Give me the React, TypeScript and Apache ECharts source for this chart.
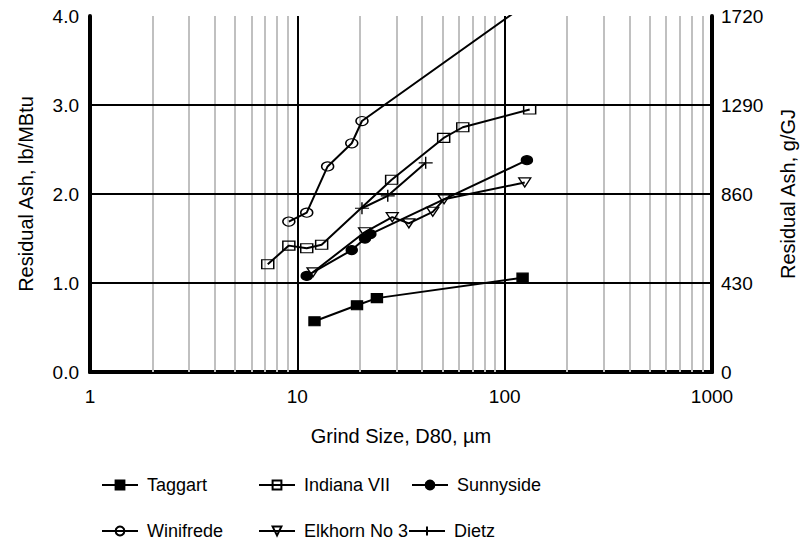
import React, { useEffect, useRef } from "react";
import * as echarts from "echarts";

// Grind size (D80, µm) and residual ash (lb/MBtu) for each coal
const taggartX = [12.1, 19.4, 24.2, 122];
const taggartY = [0.57, 0.75, 0.83, 1.06];

const indianaX = [7.2, 9.1, 11.1, 13.1, 28.5, 50.8, 62.8, 132];
const indianaY = [1.21, 1.42, 1.39, 1.43, 2.16, 2.63, 2.75, 2.95];

const sunnysideX = [11.1, 18.3, 21.2, 22.5, 128];
const sunnysideY = [1.08, 1.37, 1.5, 1.55, 2.38];

const winifredeX = [9.1, 11.1, 14.0, 18.3, 20.5, 128];
const winifredeY = [1.69, 1.79, 2.31, 2.57, 2.82, 4.14];

const elkhornX = [11.9, 21.1, 28.7, 34.5, 45, 51, 125];
const elkhornY = [1.12, 1.57, 1.74, 1.67, 1.8, 1.94, 2.13];

const dietzX = [20.5, 27.3, 41.6];
const dietzY = [1.84, 1.98, 2.35];

// Axis ticks
const leftTicks = [0, 1, 2, 3, 4];
const rightTicks = [0, 430, 860, 1290, 1720];
const minorX = [2, 3, 4, 5, 6, 7, 8, 9, 20, 30, 40, 50, 60, 70, 80, 90, 200, 300, 400, 500, 600, 700, 800, 900];
const majorX = [10, 100];

const FONT = "'Liberation Sans', Arial, sans-serif";
const PLUS = "path://M0,6L14,6M7,0L7,12";

const pair = (xs: number[], ys: number[]) => xs.map((x, i) => [x, ys[i]]);

export default function App() {
  const ref = useRef<HTMLDivElement>(null);

  useEffect(() => {
    if (!ref.current) return;
    const chart = echarts.init(ref.current, null, { renderer: "svg" });

    const mk = (
      name: string,
      xs: number[],
      ys: number[],
      symbol: string,
      size: number[],
      filled: boolean,
      rotate = 0
    ) => ({
      name,
      type: "line",
      data: pair(xs, ys),
      symbol,
      symbolSize: size,
      symbolRotate: rotate,
      showSymbol: true,
      clip: true,
      z: 5,
      lineStyle: { color: "#000", width: 2 },
      itemStyle: {
        color: filled ? "#000" : "rgba(0,0,0,0)",
        borderColor: "#000",
        borderWidth: 1.3,
      },
    });

    const legendPos = [
      { name: "Taggart", left: 96, top: 471 },
      { name: "Indiana VII", left: 253, top: 471 },
      { name: "Sunnyside", left: 406, top: 471 },
      { name: "Winifrede", left: 96, top: 517 },
      { name: "Elkhorn No 3", left: 253, top: 517 },
      { name: "Dietz", left: 403, top: 517 },
    ];

    chart.setOption({
      animation: false,
      backgroundColor: "#fff",
      textStyle: { fontFamily: FONT },
      grid: { left: 90, right: 98, top: 16, bottom: 174, containLabel: false },
      legend: legendPos.map((l) => ({
        data: [l.name],
        left: l.left,
        top: l.top,
        itemWidth: 36,
        itemHeight: 11,
        itemGap: 8,
        textStyle: { fontFamily: FONT, fontSize: 18, color: "#000", padding: [0, 0, 0, 4] },
      })),
      xAxis: [
        {
          type: "log",
          logBase: 10,
          min: 1,
          max: 1000,
          position: "bottom",
          z: 3,
          name: "Grind Size, D80, µm",
          nameLocation: "middle",
          nameGap: 54,
          nameTextStyle: { fontFamily: FONT, fontSize: 20, color: "#000" },
          axisLine: { show: true, lineStyle: { color: "#000", width: 4 } },
          axisTick: { show: false },
          axisLabel: {
            fontFamily: FONT,
            fontSize: 19,
            color: "#000",
            margin: 15,
            formatter: (v: number) => String(Math.round(v)),
          },
          splitLine: { show: false },
        },
        {
          type: "log",
          logBase: 10,
          min: 1,
          max: 1000,
          position: "top",
          z: 3,
          axisLine: { show: true, lineStyle: { color: "#000", width: 4 } },
          axisTick: { show: false },
          axisLabel: { show: false },
          splitLine: { show: false },
        },
      ],
      yAxis: [
        {
          type: "value",
          min: leftTicks[0],
          max: leftTicks[leftTicks.length - 1],
          interval: 1,
          position: "left",
          z: 3,
          name: "Residual Ash, lb/MBtu",
          nameLocation: "middle",
          nameRotate: 90,
          nameGap: 54,
          nameTextStyle: { fontFamily: FONT, fontSize: 20, color: "#000" },
          axisLine: { show: true, lineStyle: { color: "#000", width: 4 } },
          axisTick: { show: false },
          axisLabel: {
            fontFamily: FONT,
            fontSize: 19,
            color: "#000",
            margin: 11,
            formatter: (v: number) => v.toFixed(1),
          },
          splitLine: { show: false },
        },
        {
          type: "value",
          min: rightTicks[0],
          max: rightTicks[rightTicks.length - 1],
          interval: 430,
          position: "right",
          z: 3,
          name: "Residual Ash, g/GJ",
          nameLocation: "middle",
          nameRotate: 90,
          nameGap: 66,
          nameTextStyle: { fontFamily: FONT, fontSize: 20, color: "#000" },
          axisLine: { show: true, lineStyle: { color: "#000", width: 4 } },
          axisTick: { show: false },
          axisLabel: {
            fontFamily: FONT,
            fontSize: 19,
            color: "#000",
            margin: 9,
            formatter: (v: number) => String(v),
          },
          splitLine: { show: false },
        },
      ],
      series: [
        {
          name: "grid",
          type: "line",
          data: [],
          z: 1,
          silent: true,
          markLine: {
            silent: true,
            symbol: ["none", "none"],
            label: { show: false },
            animation: false,
            data: [
              ...minorX.map((v) => ({
                xAxis: v,
                lineStyle: { color: "#c0c0c0", width: 2, type: "solid" },
              })),
              ...majorX.map((v) => ({
                xAxis: v,
                lineStyle: { color: "#000", width: 2, type: "solid" },
              })),
              ...leftTicks.slice(1, -1).map((v) => ({
                yAxis: v,
                lineStyle: { color: "#000", width: 2, type: "solid" },
              })),
            ],
          },
        },
        mk("Taggart", taggartX, taggartY, "rect", [11, 9], true),
        mk("Indiana VII", indianaX, indianaY, "rect", [12, 9], false),
        mk("Sunnyside", sunnysideX, sunnysideY, "circle", [11, 9], true),
        mk("Winifrede", winifredeX, winifredeY, "circle", [12, 9], false),
        mk("Elkhorn No 3", elkhornX, elkhornY, "triangle", [12, 9], false, 180),
        mk("Dietz", dietzX, dietzY, PLUS, [14, 12], false),
      ],
    });

    return () => chart.dispose();
  }, []);

  return (
    <div
      ref={ref}
      style={{ position: "fixed", left: 0, top: 0, width: 810, height: 546 }}
    />
  );
}
